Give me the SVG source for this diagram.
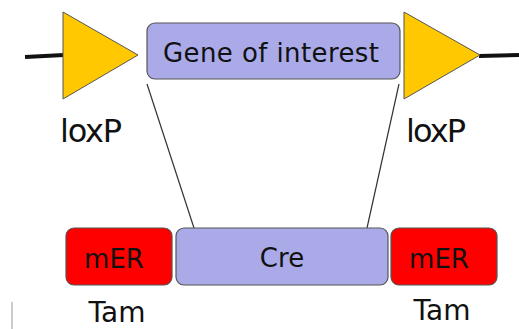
<svg xmlns="http://www.w3.org/2000/svg" width="519" height="329" viewBox="0 0 519 329">
<style>
text{font-family:"DejaVu Sans",Verdana,sans-serif;fill:#111}
.tri{fill:#FFC800;stroke:#555;stroke-width:1}
.blue{fill:#AAAAE8;stroke:#555;stroke-width:1.2}
.red{fill:#FF0000;stroke:#555;stroke-width:1.2}
.dna{stroke:#111;stroke-width:4;fill:none}
.conn{stroke:#333;stroke-width:1.2;fill:none}
</style>
<rect width="519" height="329" fill="#fff"/>
<g id="connectors">
<line class="dna" x1="25" y1="57" x2="64" y2="55"/>
<line class="dna" x1="479" y1="56" x2="519" y2="55"/>
<line class="conn" x1="147" y1="84" x2="194" y2="228"/>
<line class="conn" x1="399" y1="84" x2="367" y2="228"/>
</g>
<g id="loxP-left">
<polygon class="tri" points="63,12 138,55 63,99"/>
<text x="91" y="142" font-size="32" text-anchor="middle" textLength="62">loxP</text>
</g>
<g id="gene">
<rect class="blue" x="147" y="23" width="253" height="56" rx="8"/>
<text x="271" y="62" font-size="26" text-anchor="middle" textLength="216">Gene of interest</text>
</g>
<g id="loxP-right">
<polygon class="tri" points="404,12 480,55 404,99"/>
<text x="436" y="142" font-size="32" text-anchor="middle" textLength="60">loxP</text>
</g>
<g id="mER-left">
<rect class="red" x="66" y="228" width="106" height="57" rx="8"/>
<text x="114" y="268" font-size="26" text-anchor="middle">mER</text>
</g>
<g id="cre">
<rect class="blue" x="176" y="228" width="212" height="57" rx="8"/>
<text x="282" y="267" font-size="26" text-anchor="middle">Cre</text>
</g>
<g id="mER-right">
<rect class="red" x="391" y="228" width="106" height="57" rx="8"/>
<text x="439" y="268" font-size="26" text-anchor="middle">mER</text>
</g>
<g id="tam-left">
<text x="117" y="322" font-size="28" text-anchor="middle">Tam</text>
</g>
<g id="tam-right">
<text x="442" y="320" font-size="28" text-anchor="middle">Tam</text>
</g>
<line x1="12" y1="302" x2="12" y2="329" stroke="#ccc" stroke-width="2"/>
</svg>
